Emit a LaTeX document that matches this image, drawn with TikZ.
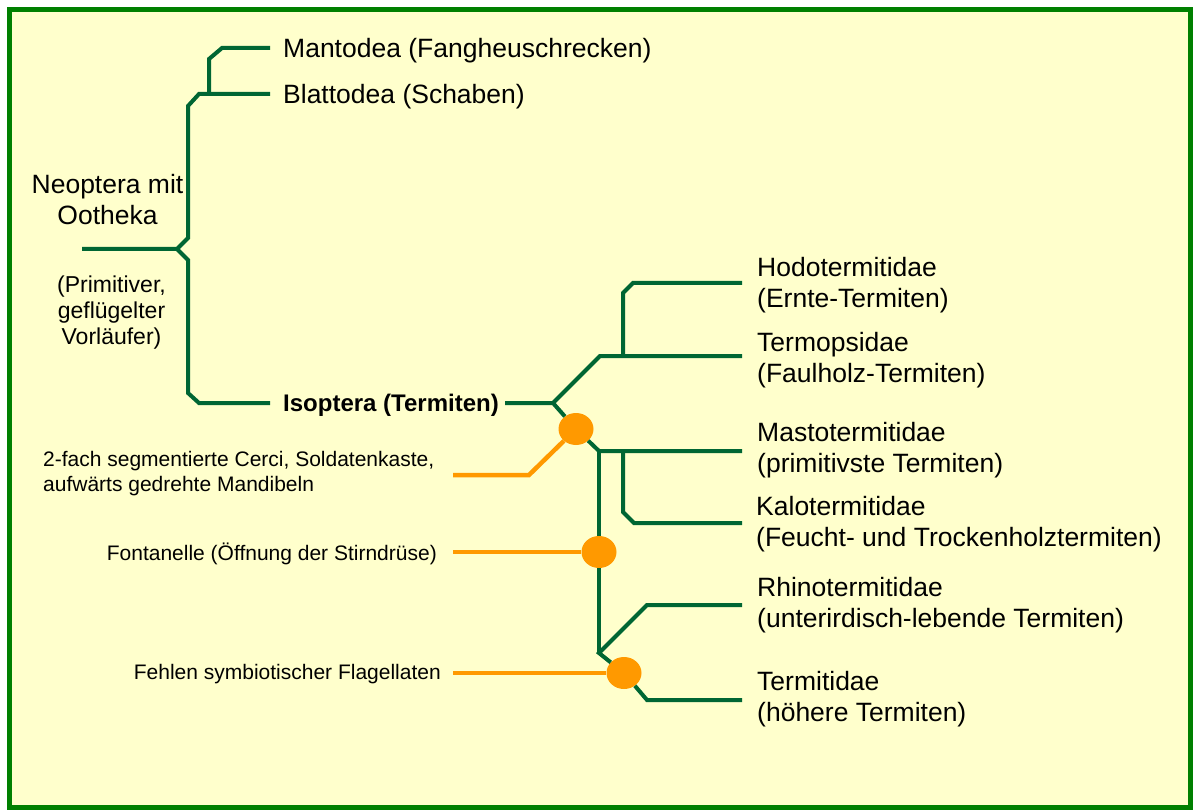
\documentclass[tikz,border=0pt]{standalone}
\usepackage{fontspec}
\setmainfont{Liberation Sans}
\usetikzlibrary{shapes.geometric}
\definecolor{framegreen}{RGB}{0,128,0}
\definecolor{bgyellow}{RGB}{255,255,204}
\definecolor{treegreen}{RGB}{0,102,51}
\definecolor{traitorange}{RGB}{255,153,0}
\begin{document}
\begin{tikzpicture}[x=1pt,y=-1pt,
  branch/.style={draw=treegreen, line width=4pt, line join=miter},
  trait/.style={draw=traitorange, line width=4.5pt},
  dot/.style={ellipse, fill=traitorange, minimum width=35pt, minimum height=32pt, inner sep=0pt},
  biglabel/.style={font=\fontsize{26.5}{31}\selectfont, inner sep=0pt, text=black},
  midlabel/.style={font=\fontsize{23}{26}\selectfont, inner sep=0pt, text=black},
  boldlabel/.style={font=\fontsize{24}{28}\selectfont\bfseries, inner sep=0pt, text=black},
  smalllabel/.style={font=\fontsize{21}{25}\selectfont, inner sep=0pt, text=black}
]
\useasboundingbox (0,0) rectangle (1194,810);
\fill[white] (0,0) rectangle (1194,810);
\draw[draw=framegreen, fill=bgyellow, line width=5pt] (9.5,9.5) rectangle (1190,807.5);

% labels
\node[biglabel, anchor=west] (mant) at (283,51) {Mantodea (Fangheuschrecken)};
\node[biglabel, anchor=west] (blat) at (283,97) {Blattodea (Schaben)};
\node[biglabel, align=center] (neo) at (107.5,200) {Neoptera mit\\Ootheka};
\node[midlabel, align=center] (prim) at (111.5,313) {(Primitiver,\\geflügelter\\Vorläufer)};
\node[boldlabel, anchor=west] (iso) at (283,405) {Isoptera (Termiten)};

\node[biglabel, anchor=west, align=left] (hodo) at (757,285) {Hodotermitidae\\(Ernte-Termiten)};
\node[biglabel, anchor=west, align=left] (termop) at (757,360.5) {Termopsidae\\(Faulholz-Termiten)};
\node[biglabel, anchor=west, align=left] (masto) at (757,450.5) {Mastotermitidae\\(primitivste Termiten)};
\node[biglabel, anchor=west, align=left] (kalo) at (756,524) {Kalotermitidae\\(Feucht- und Trockenholztermiten)};
\node[biglabel, anchor=west, align=left] (rhino) at (757,605) {Rhinotermitidae\\(unterirdisch-lebende Termiten)};
\node[biglabel, anchor=west, align=left] (termi) at (757,699) {Termitidae\\(höhere Termiten)};

\node[smalllabel, anchor=west, align=left] (cerci) at (43,474) {2-fach segmentierte Cerci, Soldatenkaste,\\aufwärts gedrehte Mandibeln};
\node[smalllabel, anchor=east] (fonta) at (437,553.5) {Fontanelle (Öffnung der Stirndrüse)};
\node[smalllabel, anchor=east] (fehlen) at (441,674.5) {Fehlen symbiotischer Flagellaten};

% tree vertices
\coordinate (root) at (82,249);
\coordinate (j0) at (177,249);
\coordinate (up1) at (188,238);
\coordinate (up2) at (188,106);
\coordinate (up3) at (199,94);
\coordinate (blatE) at (270,94);
\coordinate (m1) at (209,94);
\coordinate (m2) at (209,59);
\coordinate (m3) at (222,48);
\coordinate (mantE) at (270,48);
\coordinate (dn1) at (188,260);
\coordinate (dn2) at (188,393);
\coordinate (dn3) at (199,403);
\coordinate (isoE) at (270,403);

\coordinate (isoR) at (505,403);
\coordinate (j1) at (553,403);
\coordinate (a1) at (600,356);
\coordinate (termopE) at (742,356);
\coordinate (h1) at (623,356);
\coordinate (h2) at (623,293);
\coordinate (h3) at (633,283);
\coordinate (hodoE) at (742,283);
\coordinate (j2) at (599,451);
\coordinate (mastoE) at (742,451);
\coordinate (k1) at (623,451);
\coordinate (k2) at (623,512);
\coordinate (k3) at (634,523);
\coordinate (kaloE) at (742,523);
\coordinate (j3) at (599,653);
\coordinate (r1) at (647,605);
\coordinate (rhinoE) at (742,605);
\coordinate (t1) at (647,700);
\coordinate (termiE) at (742,700);

% dots
\node[dot] (d1) at (576,429) {};
\node[dot] (d2) at (599,552) {};
\node[dot] (d3) at (624,673) {};

% green branches
\draw[branch] (root) -- (j0) -- (up1) -- (up2) -- (up3) -- (blatE);
\draw[branch] (m1) -- (m2) -- (m3) -- (mantE);
\draw[branch] (j0) -- (dn1) -- (dn2) -- (dn3) -- (isoE);
\draw[branch] (isoR) -- (j1) -- (a1) -- (termopE);
\draw[branch] (h1) -- (h2) -- (h3) -- (hodoE);
\draw[branch] (j1) -- (d1);
\draw[branch] (d1) -- (j2) -- (mastoE);
\draw[branch] (k1) -- (k2) -- (k3) -- (kaloE);
\draw[branch] (j2) -- (d2);
\draw[branch] (d2) -- (j3);
\draw[branch] (rhinoE) -- (r1) -- (j3) -- (d3);
\draw[branch] (d3) -- (t1) -- (termiE);

% orange trait lines
\coordinate (o1) at (453,475);
\coordinate (o1b) at (529,475);
\coordinate (o2) at (453,552);
\coordinate (o3) at (453,673);
\draw[trait] (o1) -- (o1b) -- (d1);
\draw[trait] (o2) -- (d2);
\draw[trait] (o3) -- (d3);
\end{tikzpicture}
\end{document}
